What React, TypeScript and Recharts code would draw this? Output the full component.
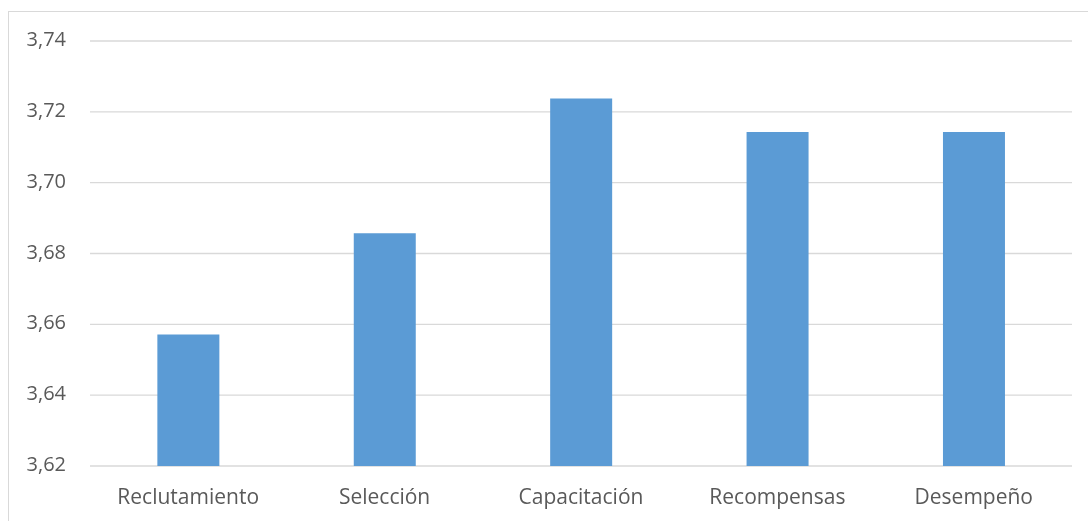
import React from "react";
import { BarChart, Bar, XAxis, YAxis, CartesianGrid } from "recharts";

const categories = ["Reclutamiento", "Selección", "Capacitación", "Recompensas", "Desempeño"];
const values = [3.6571, 3.6857, 3.7238, 3.7143, 3.7143];
const yTicks = [3.62, 3.64, 3.66, 3.68, 3.7, 3.72, 3.74];

const data = categories.map((name, i) => ({ name, value: values[i] }));

const FONT = "'Open Sans', 'Noto Sans', sans-serif";

export default function App() {
  return (
    <div>
      <div
        style={{
          position: "fixed",
          left: 8,
          top: 11,
          width: 2000,
          height: 2000,
          borderTop: "1px solid #d9d9d9",
          borderLeft: "1px solid #d9d9d9",
          pointerEvents: "none",
        }}
      />
      <div style={{ position: "fixed", left: 8, top: 8, width: 1080, height: 513, overflow: "hidden" }}>
        <BarChart
          width={1080}
          height={513}
          data={data}
          margin={{ top: 33, right: 16, bottom: 14, left: 0 }}
          barCategoryGap="34.3%"
        >
          <CartesianGrid vertical={false} stroke="#d9d9d9" strokeWidth={1.3} />
          <XAxis
            dataKey="name"
            axisLine={false}
            tickLine={false}
            tickSize={0}
            tickMargin={23}
            height={41}
            interval={0}
            tick={{ fill: "#595959", fontSize: 21, fontFamily: FONT }}
          />
          <YAxis
            domain={[3.62, 3.74]}
            ticks={yTicks}
            axisLine={false}
            tickLine={false}
            tickSize={0}
            tickMargin={24}
            width={82}
            interval={0}
            tickFormatter={(v: number) => v.toFixed(2).replace(".", ",")}
            tick={{ fill: "#595959", fontSize: 20, fontFamily: FONT, dy: -2 }}
          />
          <Bar dataKey="value" fill="#5b9bd5" isAnimationActive={false} />
        </BarChart>
      </div>
    </div>
  );
}
